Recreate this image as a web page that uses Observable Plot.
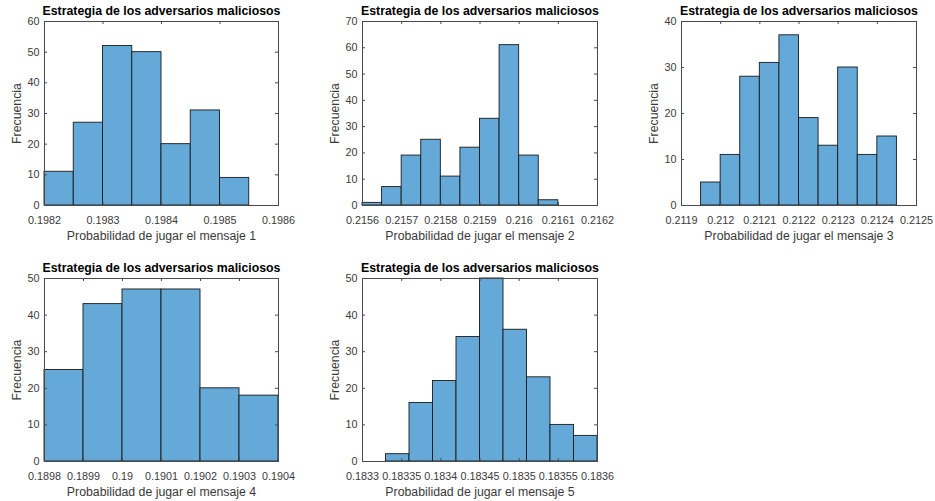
<!DOCTYPE html>
<html>
<head>
<meta charset="utf-8">
<script src="https://cdn.jsdelivr.net/npm/d3@7"></script>
<script src="https://cdn.jsdelivr.net/npm/@observablehq/plot@0.6"></script>
<style>
  html, body { margin: 0; padding: 0; background: #ffffff; }
  #root { position: relative; width: 935px; height: 501px; background: #ffffff; overflow: hidden; }
  #root svg { position: absolute; }
</style>
</head>
<body>
<div id="root"></div>
<script>
const title = "Estrategia de los adversarios maliciosos";
const yLabel = "Frecuencia";

// Panel 1
const edges1 = [0.1982, 0.19825, 0.1983, 0.19835, 0.1984, 0.19845, 0.1985, 0.19855];
const counts1 = [11, 27, 52, 50, 20, 31, 9];
const xDomain1 = [0.1982, 0.1986];
const xTicks1 = [0.1982, 0.1983, 0.1984, 0.1985, 0.1986];
const yTicks1 = [0, 10, 20, 30, 40, 50, 60];
const xLabel1 = "Probabilidad de jugar el mensaje 1";

// Panel 2
const edges2 = [0.2156, 0.21565, 0.2157, 0.21575, 0.2158, 0.21585, 0.2159, 0.21595, 0.216, 0.21605, 0.2161];
const counts2 = [1, 7, 19, 25, 11, 22, 33, 61, 19, 2];
const xDomain2 = [0.2156, 0.2162];
const xTicks2 = [0.2156, 0.2157, 0.2158, 0.2159, 0.216, 0.2161, 0.2162];
const yTicks2 = [0, 10, 20, 30, 40, 50, 60, 70];
const xLabel2 = "Probabilidad de jugar el mensaje 2";

// Panel 3
const edges3 = [0.21195, 0.212, 0.21205, 0.2121, 0.21215, 0.2122, 0.21225, 0.2123, 0.21235, 0.2124, 0.21245];
const counts3 = [5, 11, 28, 31, 37, 19, 13, 30, 11, 15];
const xDomain3 = [0.2119, 0.2125];
const xTicks3 = [0.2119, 0.212, 0.2121, 0.2122, 0.2123, 0.2124, 0.2125];
const yTicks3 = [0, 10, 20, 30, 40];
const xLabel3 = "Probabilidad de jugar el mensaje 3";

// Panel 4
const edges4 = [0.1898, 0.1899, 0.19, 0.1901, 0.1902, 0.1903, 0.1904];
const counts4 = [25, 43, 47, 47, 20, 18];
const xDomain4 = [0.1898, 0.1904];
const xTicks4 = [0.1898, 0.1899, 0.19, 0.1901, 0.1902, 0.1903, 0.1904];
const yTicks4 = [0, 10, 20, 30, 40, 50];
const xLabel4 = "Probabilidad de jugar el mensaje 4";

// Panel 5
const edges5 = [0.18333, 0.18336, 0.18339, 0.18342, 0.18345, 0.18348, 0.18351, 0.18354, 0.18357, 0.1836];
const counts5 = [2, 16, 22, 34, 50, 36, 23, 10, 7];
const xDomain5 = [0.1833, 0.1836];
const xTicks5 = [0.1833, 0.18335, 0.1834, 0.18345, 0.1835, 0.18355, 0.1836];
const yTicks5 = [0, 10, 20, 30, 40, 50];
const xLabel5 = "Probabilidad de jugar el mensaje 5";

const fmt = d3.format("~g");
const FONT = "'Liberation Sans', Arial, Helvetica, sans-serif";
const AX = "#4a4a4a";
const TXT = "#3a3a3a";

function panel(p) {
  const rows = p.counts.map((c, i) => ({x1: p.edges[i], x2: p.edges[i + 1], y: c}));
  const innerH = p.height - p.mT - p.mB;
  const innerW = p.width - p.mL - p.mR;
  const svg = Plot.plot({
    width: p.width, height: p.height,
    marginLeft: p.mL, marginRight: p.mR, marginTop: p.mT, marginBottom: p.mB,
    style: {fontFamily: FONT, background: "transparent", overflow: "visible", color: TXT},
    x: {domain: p.xDomain},
    y: {domain: [0, p.yTicks[p.yTicks.length - 1]]},
    marks: [
      Plot.rect(rows, {x1: "x1", x2: "x2", y1: 0, y2: "y", fill: "#64a9d7", stroke: "#1a1a1a", strokeWidth: 0.9}),
      Plot.frame({stroke: AX, strokeWidth: 1}),
      Plot.tickX(p.xTicks, {x: d => d, insetTop: innerH - 3, stroke: AX}),
      Plot.tickX(p.xTicks, {x: d => d, insetBottom: innerH - 3, stroke: AX}),
      Plot.tickY(p.yTicks, {y: d => d, insetRight: innerW - 3, stroke: AX}),
      Plot.tickY(p.yTicks, {y: d => d, insetLeft: innerW - 3, stroke: AX}),
      Plot.axisX({ticks: p.xTicks, tickSize: 0, tickPadding: 11, tickFormat: fmt, fontSize: 10.8, fill: TXT,
        label: p.xLabel, labelAnchor: "center", labelArrow: "none", labelOffset: 34}),
      Plot.axisY({ticks: p.yTicks, tickSize: 0, tickPadding: 5, tickFormat: fmt, fontSize: 10.8, fill: TXT,
        label: yLabel, labelAnchor: "center", labelArrow: "none", labelOffset: 32}),
      Plot.text([title], {text: d => d, frameAnchor: "top", dy: -6.5, lineAnchor: "bottom",
        fontWeight: "bold", fontSize: 12.3, fill: "#000"})
    ]
  });
  svg.style.left = p.left + "px";
  svg.style.top = p.top + "px";
  svg.querySelectorAll("g[aria-label='x-axis label'] text, g[aria-label='y-axis label'] text").forEach(t => t.setAttribute("font-size", "12.3"));
  document.getElementById("root").appendChild(svg);
}

panel({left: 0, top: 0, width: 310, height: 250, mL: 44, mR: 32, mT: 21, mB: 45,
  edges: edges1, counts: counts1, xDomain: xDomain1, xTicks: xTicks1, yTicks: yTicks1, xLabel: xLabel1});
panel({left: 310, top: 0, width: 310, height: 250, mL: 52, mR: 23, mT: 21, mB: 45,
  edges: edges2, counts: counts2, xDomain: xDomain2, xTicks: xTicks2, yTicks: yTicks2, xLabel: xLabel2});
panel({left: 620, top: 0, width: 315, height: 250, mL: 61, mR: 19, mT: 21, mB: 45,
  edges: edges3, counts: counts3, xDomain: xDomain3, xTicks: xTicks3, yTicks: yTicks3, xLabel: xLabel3});
panel({left: 0, top: 255, width: 310, height: 246, mL: 44, mR: 32, mT: 23, mB: 40,
  edges: edges4, counts: counts4, xDomain: xDomain4, xTicks: xTicks4, yTicks: yTicks4, xLabel: xLabel4});
panel({left: 310, top: 255, width: 310, height: 246, mL: 52, mR: 23, mT: 23, mB: 40,
  edges: edges5, counts: counts5, xDomain: xDomain5, xTicks: xTicks5, yTicks: yTicks5, xLabel: xLabel5});
</script>
</body>
</html>
